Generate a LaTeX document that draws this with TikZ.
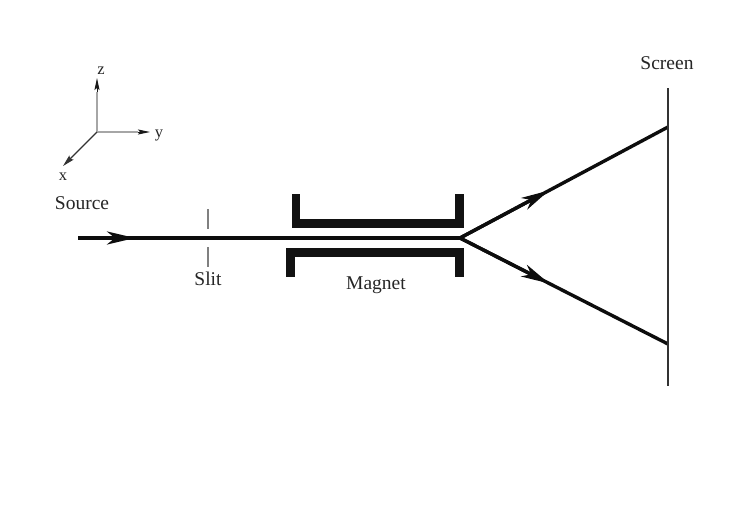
\documentclass[tikz,border=0pt]{standalone}
\usepackage{fontspec}
\setmainfont{Liberation Serif}
\usetikzlibrary{arrows.meta}
\tikzset{
  lbl/.style={inner sep=0pt,text=black!85,font=\fontsize{19.5}{22}\selectfont},
  axlbl/.style={inner sep=0pt,text=black!85,font=\fontsize{16.5}{18}\selectfont},
  beam/.style={line width=3.4pt,color=black!95},
  beamtip/.style={line width=3.4pt,color=black!95,-{Stealth[length=28pt,width=13pt,inset=8pt]}},
  magnet/.style={line width=8.6pt,color=black!93,miter limit=10},
  axisline/.style={line width=1.4pt,color=black!35},
  axistip/.style={line width=1pt,color=black!90,-{Stealth[length=12pt,width=5pt,inset=2pt]}},
  xaxisline/.style={line width=1.1pt,color=black!80,-{Stealth[length=12pt,width=6pt,inset=2pt]}},
  thin line/.style={line width=1.3pt,color=black!50},
  screenline/.style={line width=1.3pt,color=black!80}
}
\begin{document}
\begin{tikzpicture}[x=1pt,y=-1pt]
\useasboundingbox (0,0) rectangle (747,528);
\fill[white] (0,0) rectangle (747,528);
% axes
\coordinate (O) at (97,132);
\coordinate (Zt) at (97,78);
\coordinate (Zm) at (97,92);
\coordinate (Yt) at (150,132);
\coordinate (Ym) at (138,132);
\coordinate (Xt) at (63,166);
\draw[axisline] (O) -- (Zm);
\draw[axisline] (O) -- (Ym);
\draw[xaxisline] (O) -- (Xt);
\draw[axistip] (Zm) -- (Zt);
\draw[axistip] (Ym) -- (Yt);
\node[axlbl] (zl) at (101,70.5) {z};
\node[axlbl] (yl) at (159,135) {y};
\node[axlbl] (xl) at (63,177) {x};
% labels
\node[lbl] (src) at (82,203) {Source};
\node[lbl] (slit) at (208,279) {Slit};
\node[lbl] (mag) at (376,285) {Magnet};
\node[lbl] (scr) at (667,63) {Screen};
% slit
\coordinate (s1) at (208,209);
\coordinate (s2) at (208,229);
\coordinate (s3) at (208,247);
\coordinate (s4) at (208,267);
\draw[thin line] (s1) -- (s2);
\draw[thin line] (s3) -- (s4);
% magnet
\coordinate (ua) at (296,194);
\coordinate (ub) at (296,223.3);
\coordinate (uc) at (459.7,223.3);
\coordinate (ud) at (459.7,194);
\coordinate (la) at (290.5,276.5);
\coordinate (lb) at (290.5,252.3);
\coordinate (lc) at (459.7,252.3);
\coordinate (ld) at (459.7,276.5);
\draw[magnet] (ua) -- (ub) -- (uc) -- (ud);
\draw[magnet] (la) -- (lb) -- (lc) -- (ld);
% beams
\coordinate (B0) at (78,238);
\coordinate (Bt) at (135,238);
\coordinate (Bj) at (460,238);
\coordinate (Ut) at (549,190.5);
\coordinate (Ue) at (668,127);
\coordinate (Lt) at (549,283.4);
\coordinate (Le) at (668,344);
\draw[beam] (B0) -- (Bj);
\draw[beamtip] (B0) -- (Bt);
\draw[beam] (Bj) -- (Ue);
\draw[beam] (Bj) -- (Le);
\draw[beamtip] (Bj) -- (Ut);
\draw[beamtip] (Bj) -- (Lt);
% screen
\coordinate (S1) at (668,88);
\coordinate (S2) at (668,386);
\draw[screenline] (S1) -- (S2);
\end{tikzpicture}
\end{document}
